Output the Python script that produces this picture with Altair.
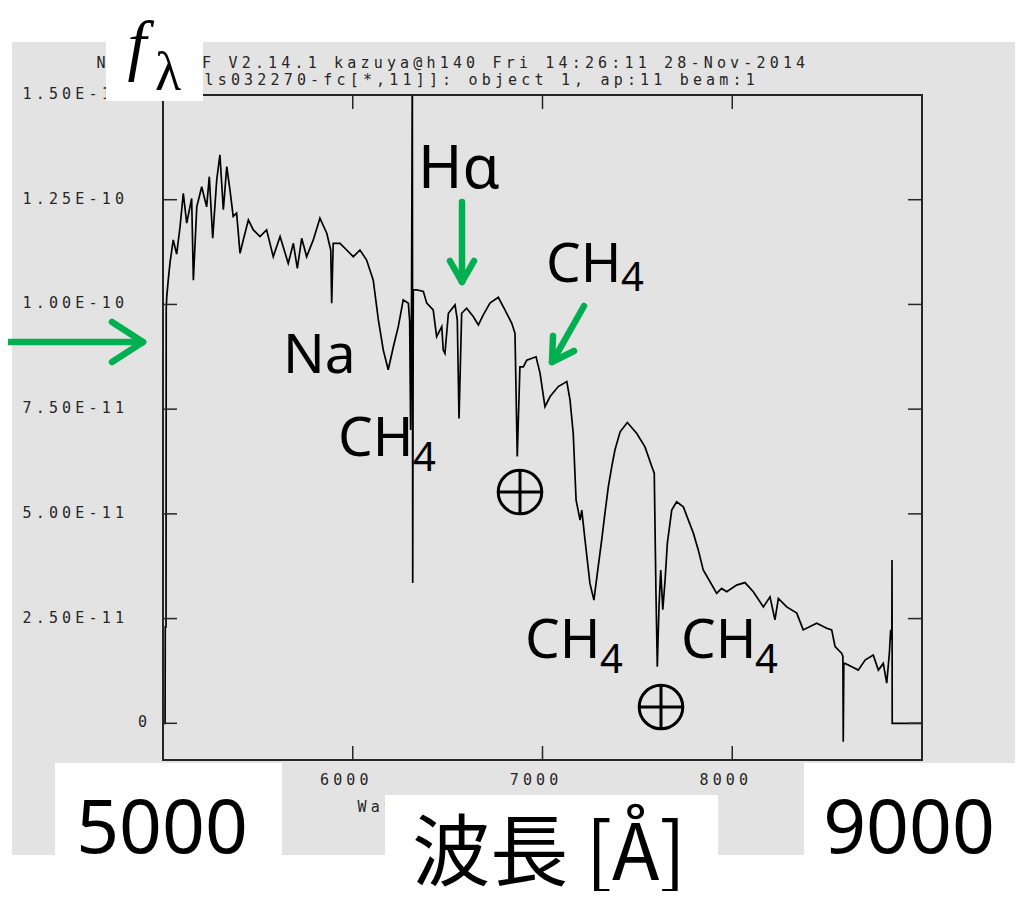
import altair as alt
import pandas as pd

# ---------------- data ----------------
wavelength = [5000, 5011, 5012, 5016, 5017, 5020, 5028, 5037, 5054, 5072, 5090, 5107, 5125, 5151,
              5160, 5178, 5204, 5230, 5244, 5262, 5283, 5300, 5318, 5336, 5353, 5370, 5388, 5406,
              5423, 5450, 5476, 5511, 5546, 5581, 5617, 5660, 5687, 5708, 5731, 5757, 5792, 5827,
              5863, 5884, 5889, 5897, 5933, 5968, 6003, 6038, 6073, 6108, 6135, 6161, 6187, 6214,
              6240, 6266, 6293, 6300, 6305, 6310, 6314, 6316, 6319, 6337, 6372, 6390, 6424, 6442,
              6469, 6477, 6486, 6504, 6539, 6551, 6560, 6574, 6600, 6635, 6662, 6688, 6723, 6767,
              6802, 6838, 6855, 6867, 6881, 6899, 6917, 6966, 6987, 7013, 7040, 7083, 7128, 7145,
              7162, 7177, 7198, 7207, 7224, 7250, 7271, 7289, 7312, 7329, 7347, 7365, 7382, 7409,
              7447, 7497, 7540, 7576, 7589, 7598, 7605, 7614, 7623, 7634, 7646, 7658, 7681, 7707,
              7742, 7795, 7821, 7847, 7883, 7918, 7944, 7971, 8023, 8067, 8111, 8164, 8199, 8225,
              8243, 8287, 8340, 8374, 8410, 8445, 8498, 8524, 8542, 8577, 8583, 8585, 8588, 8594,
              8630, 8664, 8700, 8743, 8770, 8796, 8814, 8828, 8835, 8841, 8842, 8843, 9000]
# flux in units of 1e-11
flux = [0.0, 0.0, 2.3, 2.3, 9.9, 10.2, 10.6, 11.0, 11.54, 11.2, 11.86, 12.65, 11.94, 12.53,
        10.58, 12.33, 12.81, 12.33, 13.05, 11.58, 12.97, 13.57, 12.26, 13.29, 12.73, 12.10, 12.18, 11.22,
        11.54, 12.02, 11.78, 11.62, 11.78, 11.14, 11.62, 10.98, 11.46, 10.86, 11.58, 11.14, 11.54, 12.06,
        11.70, 11.30, 10.03, 11.46, 11.46, 11.30, 11.14, 11.30, 11.06, 10.58, 9.63, 8.91, 8.44, 8.99,
        9.47, 10.11, 10.03, 9.6, 7.0, 10.3, 16.0, 3.35, 10.35, 10.35, 10.31, 10.03, 9.87, 9.23,
        9.47, 8.91, 8.83, 9.79, 9.99, 9.63, 7.28, 9.79, 9.91, 9.71, 9.51, 9.75, 10.03, 10.17,
        9.87, 9.55, 9.31, 6.37, 8.51, 8.51, 8.67, 8.75, 8.36, 7.56, 7.80, 8.04, 8.16, 7.72,
        6.92, 5.33, 4.85, 5.09, 4.38, 3.34, 2.94, 3.58, 4.38, 5.01, 5.65, 6.13, 6.53, 6.96,
        7.18, 6.92, 6.60, 6.13, 5.97, 3.10, 1.35, 2.78, 3.66, 2.71, 3.42, 4.30, 5.09, 5.29,
        5.17, 4.54, 4.14, 3.66, 3.38, 3.10, 3.22, 3.14, 3.30, 3.36, 3.14, 2.78, 3.02, 2.47,
        2.98, 2.78, 2.63, 2.23, 2.31, 2.39, 2.27, 2.23, 1.83, 1.67, 1.6, -0.44, 1.43, 1.43,
        1.35, 1.27, 1.51, 1.63, 1.27, 1.43, 0.96, 1.67, 2.23, 2.0, 3.90, 0.0, 0.0]

ytick_values = [0, 2.5, 5, 7.5, 10, 12.5]
ylabel_values = [0, 2.5, 5, 7.5, 10, 12.5, 15]
ylabel_texts = ["0", "2.50E-11", "5.00E-11", "7.50E-11", "1.00E-10", "1.25E-10", "1.50E-10"]
xtick_values = [6000, 7000, 8000]
xtick_texts = ["6000", "7000", "8000"]
header_line1 = "NOAO/IRAF V2.14.1 kazuya@h140 Fri 14:26:11 28-Nov-2014"
header_line2 = "ls032270-fc[*,11]]: object 1, ap:11 beam:1"
iraf_xtitle = "Wavelength (angstroms)"

# ---------------- layout ----------------
W, H = 759, 665          # IRAF frame = plot area
PAD = {"left": 155, "top": 87, "right": 93, "bottom": 131}
OX, OY = 163, 95         # frame origin in page pixels


def px(X):
    return X - OX


def py(Y):
    return Y - OY


MONO = "DejaVu Sans Mono"
IRAF_GRAY = "#262626"
GREEN = "#00b050"
PITCH = 13.2
BG = "#e3e3e3"

xscale = alt.Scale(domain=[5000, 9000], nice=False, zero=False)
yscale = alt.Scale(domain=[-0.876, 15.0], nice=False, zero=False)
one = pd.DataFrame({"a": [0]})


def rect(X1, Y1, X2, Y2, fill):
    return alt.Chart(one).mark_rect(fill=fill, strokeWidth=0).encode(
        x=alt.value(px(X1)), x2=alt.value(px(X2)), y=alt.value(py(Y1)), y2=alt.value(py(Y2)))


def label(text, X, Y, size, font="Noto Sans", align="left", style="normal", color="black"):
    return alt.Chart(one).mark_text(text=text, font=font, fontSize=size, align=align,
                                    baseline="alphabetic", fontStyle=style, color=color).encode(
        x=alt.value(px(X)), y=alt.value(py(Y)))


# backgrounds
gray_main = rect(12, 42, 1030, 763, BG)
gray_low = rect(12, 763, 804, 855, BG)

# spectrum
spec_df = pd.DataFrame({"wl": wavelength, "f": flux})
spectrum = alt.Chart(spec_df).mark_line(color="black", strokeWidth=1.7, clip=True).encode(
    x=alt.X("wl:Q", scale=xscale, axis=None),
    y=alt.Y("f:Q", scale=yscale, axis=None),
    order="wl:Q")

# frame & ticks
frame = alt.Chart(one).mark_rect(fillOpacity=0, stroke=IRAF_GRAY, strokeWidth=2).encode(
    x=alt.value(0), x2=alt.value(W), y=alt.value(0), y2=alt.value(H))
yt = pd.DataFrame({"v": ytick_values})
xt = pd.DataFrame({"v": xtick_values})
ytick_l = alt.Chart(yt).mark_rule(color=IRAF_GRAY, strokeWidth=1.5).encode(
    y=alt.Y("v:Q", scale=yscale, axis=None), x=alt.value(0), x2=alt.value(14))
ytick_r = alt.Chart(yt).mark_rule(color=IRAF_GRAY, strokeWidth=1.5).encode(
    y=alt.Y("v:Q", scale=yscale, axis=None), x=alt.value(W - 14), x2=alt.value(W))
xtick_b = alt.Chart(xt).mark_rule(color=IRAF_GRAY, strokeWidth=1.5).encode(
    x=alt.X("v:Q", scale=xscale, axis=None), y=alt.value(H - 14), y2=alt.value(H))
xtick_t = alt.Chart(xt).mark_rule(color=IRAF_GRAY, strokeWidth=1.5).encode(
    x=alt.X("v:Q", scale=xscale, axis=None), y=alt.value(0), y2=alt.value(14))

# IRAF monospaced texts, one glyph per cell (wide character pitch)
rows = []
for i, c in enumerate(header_line1):
    if c != " ":
        rows.append({"x": px(101 + i * PITCH), "y": py(62.5), "t": c})
for i, c in enumerate(header_line2):
    if c != " ":
        rows.append({"x": px(209 + i * PITCH), "y": py(80), "t": c})
for i, c in enumerate(iraf_xtitle):
    if c != " ":
        rows.append({"x": px(362 + i * PITCH), "y": py(807), "t": c})
pix_text = alt.Chart(pd.DataFrame(rows)).mark_text(
    font=MONO, fontSize=15, color=IRAF_GRAY, align="center", baseline="middle").encode(
    x=alt.X("x:Q", scale=None, axis=None), y=alt.Y("y:Q", scale=None, axis=None), text="t:N")

yrows = []
for v, s in zip(ylabel_values, ylabel_texts):
    if len(s) == 1:
        yrows.append({"v": v, "x": px(142.5), "t": s})
    else:
        for i, c in enumerate(s):
            yrows.append({"v": v, "x": px(27 + i * PITCH), "t": c})
ylab = alt.Chart(pd.DataFrame(yrows)).mark_text(
    font=MONO, fontSize=15, color=IRAF_GRAY, align="center", baseline="middle", dy=-1).encode(
    y=alt.Y("v:Q", scale=yscale, axis=None), x=alt.X("x:Q", scale=None, axis=None), text="t:N")

xrows = []
for v, s in zip(xtick_values, xtick_texts):
    for i, c in enumerate(s):
        xrows.append({"v": v + (-8.5 + (i - 1.5) * PITCH) * 4000 / W, "t": c})
xlab = alt.Chart(pd.DataFrame(xrows)).mark_text(
    font=MONO, fontSize=15, color=IRAF_GRAY, align="center", baseline="middle").encode(
    x=alt.X("v:Q", scale=xscale, axis=None), y=alt.value(py(780)), text="t:N")

# white cover boxes of the slide
white_5000 = rect(55, 763, 282, 860, "white")
white_title = rect(385, 795, 718, 860, "white")
white_flam = rect(106, 20, 203, 101, "white")

# green arrows (segments in page pixels)
segs = [
    (8, 342, 138, 342), (112, 322, 143, 342), (112, 362, 143, 342),
    (462, 202, 462, 279), (450, 261, 462, 282), (474, 261, 462, 282),
    (584, 306, 554, 359), (553, 336, 552, 362), (574, 351, 552, 362),
]
seg_df = pd.DataFrame([{"x": px(a), "y": py(b), "x2": px(c), "y2": py(d)} for a, b, c, d in segs])
arrows = alt.Chart(seg_df).mark_rule(color=GREEN, strokeWidth=6.5, strokeCap="round").encode(
    x=alt.X("x:Q", scale=None, axis=None), y=alt.Y("y:Q", scale=None, axis=None),
    x2="x2:Q", y2="y2:Q")

# earth symbols
earth_centers = [(520, 492), (661, 707)]
earth_df = pd.DataFrame([{"x": px(a), "y": py(b)} for a, b in earth_centers])
earth_circ = alt.Chart(earth_df).mark_point(shape="circle", size=1900, filled=False,
                                            color="black", strokeWidth=3, opacity=1).encode(
    x=alt.X("x:Q", scale=None, axis=None), y=alt.Y("y:Q", scale=None, axis=None))
cross = []
for a, b in earth_centers:
    cross.append({"x": px(a - 21), "y": py(b), "x2": px(a + 21), "y2": py(b)})
    cross.append({"x": px(a), "y": py(b - 21), "x2": px(a), "y2": py(b + 21)})
earth_cross = alt.Chart(pd.DataFrame(cross)).mark_rule(color="black", strokeWidth=3).encode(
    x=alt.X("x:Q", scale=None, axis=None), y=alt.Y("y:Q", scale=None, axis=None),
    x2="x2:Q", y2="y2:Q")

texts = [
    label("5000", 162, 853, 75, align="center"),
    label("9000", 909, 853, 75, align="center"),
    label("波長 [Å]", 549, 880, 78, font="Noto Sans CJK JP", align="center"),
    label("f", 137, 68, 68, font="Liberation Serif", align="center", style="italic"),
    label("λ", 168, 90, 54, font="Liberation Serif", align="center"),
    label("Hα", 418, 188, 60),
    label("CH", 546, 282, 55), label("4", 621, 291, 40),
    label("Na", 283, 373, 55),
    label("CH", 338, 456, 55), label("4", 413, 471, 40),
    label("CH", 525, 658, 55), label("4", 600, 673, 40),
    label("CH", 681, 658, 55), label("4", 755, 673, 40),
]

chart = alt.layer(
    gray_main, gray_low,
    spectrum, frame, ytick_l, ytick_r, xtick_b, xtick_t,
    pix_text, ylab, xlab,
    white_5000, white_title, white_flam,
    arrows, earth_circ, earth_cross,
    *texts,
).properties(
    width=W, height=H,
    padding=PAD,
    autosize=alt.AutoSizeParams(type="none"),
    background="white",
).configure_view(strokeWidth=0)

chart.save("out.html", embed_options={"renderer": "svg", "actions": False})
